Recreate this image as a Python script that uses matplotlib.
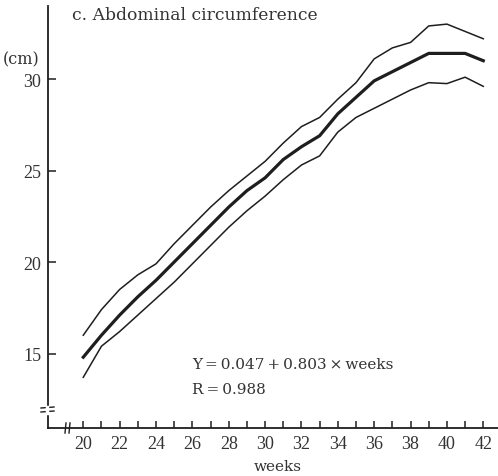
import matplotlib
matplotlib.use("Agg")
import matplotlib.pyplot as plt
from matplotlib.lines import Line2D

plt.rcParams['font.family'] = ['Liberation Serif', 'DejaVu Serif']
TXT = ['DejaVu Serif']

weeks = list(range(20, 43))
mean_cm = [14.8, 16.0, 17.1, 18.1, 19.0, 20.0, 21.0, 22.0, 23.0, 23.9, 24.6,
           25.6, 26.3, 26.9, 28.1, 29.0, 29.9, 30.4, 30.9, 31.4, 31.4, 31.4, 31.0]
upper_cm = [16.0, 17.4, 18.5, 19.3, 19.9, 21.0, 22.0, 23.0, 23.9, 24.7, 25.5,
            26.5, 27.4, 27.9, 28.9, 29.8, 31.1, 31.7, 32.0, 32.9, 33.0, 32.6, 32.2]
lower_cm = [13.7, 15.4, 16.2, 17.1, 18.0, 18.9, 19.9, 20.9, 21.9, 22.8, 23.6,
            24.5, 25.3, 25.8, 27.1, 27.9, 28.4, 28.9, 29.4, 29.8, 29.75, 30.1, 29.6]
ytick_vals = [15, 20, 25, 30]
xtick_labels = [str(w) if w % 2 == 0 else '' for w in weeks]

W, H = 498, 477
fig = plt.figure(figsize=(W / 100, H / 100), dpi=100)
ax = fig.add_axes([48 / W, (H - 429) / H, (W - 48) / W, (429 - 7) / H])

col = '#1e1e1e'
tcol = '#333333'
ax.plot(weeks, upper_cm, color=col, lw=1.1)
ax.plot(weeks, lower_cm, color=col, lw=1.1)
ax.plot(weeks, mean_cm, color=col, lw=2.3)

ax.set_xlim(18.06, 42.81)
ax.set_ylim(10.93, 33.99)

for s in ['top', 'right']:
    ax.spines[s].set_visible(False)
for s in ['left', 'bottom']:
    ax.spines[s].set_linewidth(1.3)
    ax.spines[s].set_color(col)

ax.set_xticks(weeks)
ax.set_xticklabels(xtick_labels)
ax.set_yticks(ytick_vals)
ax.set_yticklabels([str(v) for v in ytick_vals])
ax.tick_params(axis='x', direction='in', length=5, width=1.1, color=col,
               labelsize=13, pad=5, labelcolor=tcol)
ax.tick_params(axis='y', direction='in', length=6, width=1.1, color=col,
               labelsize=13, pad=5, labelcolor=tcol)

ax.text(19.38, 33.5, 'c. Abdominal circumference', fontsize=12.3,
        family=TXT, ha='left', va='center', color=tcol)
ax.text(26.0, 14.43, 'Y\u2009=\u20090.047\u2009+\u20090.803\u2009\u00d7\u2009weeks',
        fontsize=11, family=TXT, ha='left', va='center', color=tcol)
ax.text(26.0, 13.06, 'R\u2009=\u20090.988', fontsize=11, family=TXT,
        ha='left', va='center', color=tcol)

fig.text(278 / W, 1 - 467 / H, 'weeks', fontsize=11, family=TXT,
         ha='center', va='center', color=tcol)
fig.text(21 / W, 1 - 60 / H, '(cm)', fontsize=11.5, family=TXT,
         ha='center', va='center', color=tcol)

# axis break marks (decoration)
for dy in (-2, 2):
    fig.add_artist(Line2D([41 / W, 54 / W],
                          [1 - (411 + dy) / H, 1 - (410 + dy) / H],
                          color=col, lw=1.0))
fig.add_artist(Line2D([47 / W, 47 / W], [1 - 408 / H, 1 - 414 / H],
                      color='white', lw=2.5))
for dx in (-2, 2):
    fig.add_artist(Line2D([(68 + dx) / W, (67 + dx) / W],
                          [1 - 424 / H, 1 - 434 / H], color=col, lw=1.0))

fig.savefig('out.png', dpi=100)
